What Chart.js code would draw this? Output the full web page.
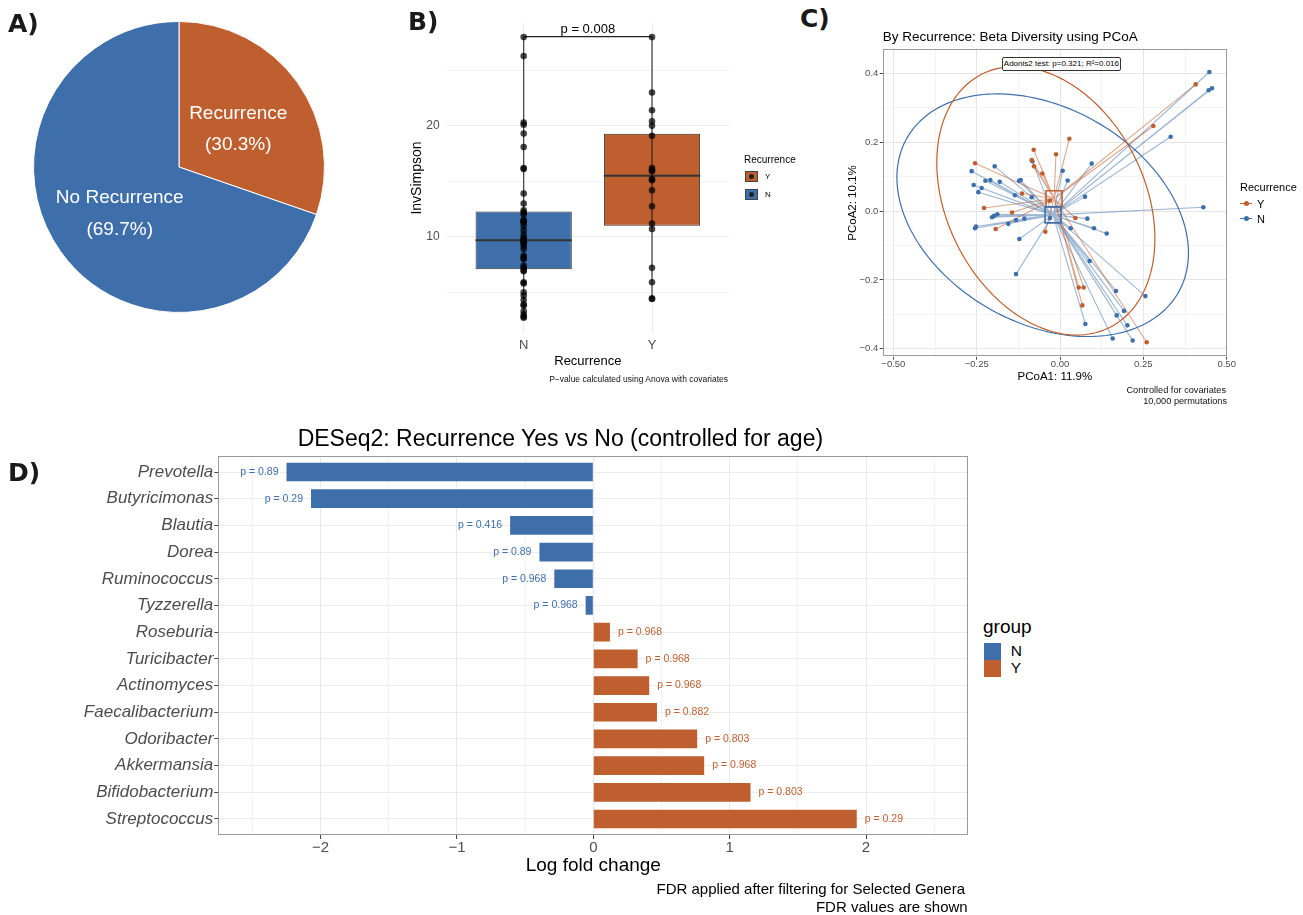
<!DOCTYPE html>
<html><head><meta charset="utf-8">
<script src="https://cdn.jsdelivr.net/npm/chart.js@4.4.1/dist/chart.umd.min.js"></script>
<style>
html,body{margin:0;padding:0;background:#fff;}
body{width:1303px;height:915px;position:relative;overflow:hidden;font-family:"Liberation Sans",Arial,Helvetica,sans-serif;}
canvas{position:absolute;}
.t{position:absolute;white-space:nowrap;line-height:1;}
.c{transform:translate(-50%,-50%);}
.l{transform:translate(0,-50%);}
.r{transform:translate(-100%,-50%);}
.pl{font-family:"DejaVu Sans",sans-serif;font-weight:bold;font-size:25px;color:#1a1a1a;}
.box{position:absolute;box-sizing:border-box;}
</style></head><body>
<canvas id="pie" width="292" height="292" style="left:33px;top:21px"></canvas>
<canvas id="box" width="400" height="400" style="left:400px;top:0px"></canvas>
<canvas id="pcoa" width="463" height="395" style="left:840px;top:20px"></canvas>
<canvas id="deseq" width="980" height="495" style="left:0px;top:420px"></canvas>

<div class="t l pl" style="left:8px;top:22.5px">A)</div>
<div class="t l pl" style="left:408px;top:21px">B)</div>
<div class="t l pl" style="left:800px;top:18px">C)</div>
<div class="t l pl" style="left:8px;top:472px">D)</div>

<!-- B extras -->
<div class="t r" style="left:728px;top:378.5px;font-size:8.5px;color:#111">P−value calculated using Anova with covariates</div>
<div class="t l" style="left:744px;top:159.5px;font-size:10px;color:#000">Recurrence</div>
<div class="box" style="left:745px;top:171px;width:13px;height:11px;background:#BF5F2F;border:1px solid #444"></div>
<div class="box" style="left:749px;top:174px;width:5px;height:5px;border-radius:50%;background:#222"></div>
<div class="t l" style="left:765px;top:177px;font-size:8px;color:#000">Y</div>
<div class="box" style="left:745px;top:188.5px;width:13px;height:11px;background:#3E6FAB;border:1px solid #444"></div>
<div class="box" style="left:749px;top:191.5px;width:5px;height:5px;border-radius:50%;background:#222"></div>
<div class="t l" style="left:765px;top:194.5px;font-size:8px;color:#000">N</div>

<!-- C extras -->
<div class="t l" style="left:882.7px;top:36.7px;font-size:13.5px;color:#000">By Recurrence: Beta Diversity using PCoA</div>
<div class="box t" style="left:1001.7px;top:56.7px;width:119.5px;height:14.5px;border:1px solid #333;border-radius:2px;background:#fff;font-size:8px;line-height:12.5px;text-align:center;color:#000">Adonis2 test: p=0.321; R²=0.016</div>
<div class="t r" style="left:1226px;top:391px;font-size:9.2px;color:#111">Controlled for covariates</div>
<div class="t r" style="left:1227px;top:401.5px;font-size:9.2px;color:#111">10,000 permutations</div>
<div class="t l" style="left:1240px;top:186.7px;font-size:11px;color:#000">Recurrence</div>
<div class="box" style="left:1240px;top:202.7px;width:12px;height:1.3px;background:#BF5F2F"></div>
<div class="box" style="left:1243.5px;top:201px;width:5px;height:5px;border-radius:50%;background:#BF5F2F"></div>
<div class="t l" style="left:1257px;top:203.5px;font-size:11px;color:#000">Y</div>
<div class="box" style="left:1240px;top:217.7px;width:12px;height:1.3px;background:#3E6FAB"></div>
<div class="box" style="left:1243.5px;top:216px;width:5px;height:5px;border-radius:50%;background:#3E6FAB"></div>
<div class="t l" style="left:1257px;top:218.5px;font-size:11px;color:#000">N</div>

<!-- D extras -->
<div class="t c" style="left:560.4px;top:438px;font-size:23px;color:#000">DESeq2: Recurrence Yes vs No (controlled for age)</div>
<div class="t r" style="left:965px;top:888.3px;font-size:15px;color:#000">FDR applied after filtering for Selected Genera</div>
<div class="t r" style="left:967.7px;top:905.7px;font-size:15px;color:#000">FDR values are shown</div>
<div class="t l" style="left:983px;top:625.7px;font-size:19px;color:#000">group</div>
<div class="box" style="left:984.3px;top:642.7px;width:16.5px;height:17.3px;background:#3E6FAB"></div>
<div class="box" style="left:984.3px;top:660px;width:16.5px;height:16.7px;background:#BF5F2F"></div>
<div class="t l" style="left:1010.7px;top:651.3px;font-size:15.5px;color:#000">N</div>
<div class="t l" style="left:1010.7px;top:668.3px;font-size:15.5px;color:#000">Y</div>

<script>
// ================= DATA =================
// Panel A
const pieLabels = ['Recurrence', 'No Recurrence'];
const piePercent = [30.3, 69.7];

// Panel B
const boxGroups = ['N', 'Y'];
const invSimpsonN = [28.0, 26.3, 20.3, 20.1, 19.3, 18.1, 16.2, 16.1, 13.9, 13.0, 12.4, 12.2, 12.0, 11.5, 11.4, 11.4, 11.3, 11.0, 10.6, 10.2, 9.9, 9.8, 9.7, 9.6, 9.5, 9.4, 9.2, 8.9, 8.3, 8.1, 8.0, 7.4, 7.2, 7.0, 6.9, 5.9, 5.8, 5.0, 4.7, 4.3, 3.9, 3.8, 3.3, 3.0, 2.8, 2.7];
const invSimpsonY = [28.0, 23.0, 21.4, 20.4, 20.0, 19.1, 16.2, 16.0, 15.9, 15.2, 15.1, 14.2, 12.75, 11.2, 10.7, 7.2, 5.9, 4.45, 4.4];
const boxQ1 = [7.07, 11.0];
const boxMedian = [9.7, 15.5];
const boxQ3 = [12.27, 19.28];
const bracketY = 28.05;
const bracketLabel = 'p = 0.008';
const invTicks = [5, 10, 15, 20, 25];
const invLabelTicks = [10, 20];

// Panel C
const pcoaYx = [0.407, 0.280, 0.028, -0.079, -0.012, -0.255, -0.085, -0.078, -0.053, -0.114, -0.228, -0.144, 0.046, -0.193, -0.044, 0.056, 0.071, 0.067, 0.260, -0.030];
const pcoaYy = [0.368, 0.247, 0.210, 0.178, 0.165, 0.139, 0.148, 0.130, 0.109, 0.051, 0.009, -0.004, -0.020, -0.052, -0.060, -0.222, -0.222, -0.274, -0.381, 0.030];
const pcoaNx = [0.448, 0.446, 0.456, 0.332, 0.095, 0.008, 0.023, 0.075, 0.430, 0.082, 0.102, 0.140, 0.032, 0.089, 0.168, 0.256, 0.192, 0.170, 0.202, 0.076, 0.158, 0.218, -0.132, -0.122, -0.265, -0.196, -0.259, -0.224, -0.209, -0.181, -0.245, -0.235, -0.123, -0.118, -0.135, -0.085, -0.083, -0.252, -0.255, -0.204, -0.198, -0.188, -0.132, -0.155, -0.107, -0.030];
const pcoaNy = [0.404, 0.351, 0.357, 0.216, 0.138, 0.117, 0.089, 0.042, 0.011, -0.022, -0.050, -0.065, -0.050, -0.145, -0.232, -0.247, -0.290, -0.303, -0.332, -0.328, -0.370, -0.376, -0.183, -0.081, 0.116, 0.130, 0.076, 0.088, 0.090, 0.085, 0.055, 0.067, 0.088, 0.090, 0.046, 0.040, 0.145, -0.045, -0.050, -0.018, -0.014, -0.009, -0.026, -0.037, -0.022, -0.020];
const centroidY = [-0.018, 0.036];
const centroidN = [-0.021, -0.011];
// ellipse parameters: centre x, centre y, semi-major, semi-minor, angle (deg)
const ellipseY = [-0.0425, 0.030, 0.415, 0.295, -61];
const ellipseN = [-0.052, -0.012, 0.465, 0.315, -27.5];
const pcoaXTicks = [-0.5, -0.375, -0.25, -0.125, 0, 0.125, 0.25, 0.375, 0.5];
const pcoaXMajor = [-0.5, -0.25, 0, 0.25, 0.5];
const pcoaYTicks = [-0.4, -0.3, -0.2, -0.1, 0, 0.1, 0.2, 0.3, 0.4];
const pcoaYMajor = [-0.4, -0.2, 0, 0.2, 0.4];

// Panel D
const genera = ['Prevotella', 'Butyricimonas', 'Blautia', 'Dorea', 'Ruminococcus', 'Tyzzerella', 'Roseburia', 'Turicibacter', 'Actinomyces', 'Faecalibacterium', 'Odoribacter', 'Akkermansia', 'Bifidobacterium', 'Streptococcus'];
const logFoldChange = [-2.25, -2.07, -0.61, -0.395, -0.286, -0.056, 0.122, 0.325, 0.41, 0.467, 0.762, 0.813, 1.153, 1.932];
const fdrValues = ['0.89', '0.29', '0.416', '0.89', '0.968', '0.968', '0.968', '0.968', '0.968', '0.882', '0.803', '0.968', '0.803', '0.29'];
const lfcGroup = ['N', 'N', 'N', 'N', 'N', 'N', 'Y', 'Y', 'Y', 'Y', 'Y', 'Y', 'Y', 'Y'];
const lfcTicks = [-2.5, -2, -1.5, -1, -0.5, 0, 0.5, 1, 1.5, 2, 2.5];
const lfcMajor = [-2, -1, 0, 1, 2];

// ================= STYLE =================
const BLUE = '#3E6FAB';
const ORANGE = '#BF5F2F';
const FONT = '"Liberation Sans", Arial, Helvetica, sans-serif';
Chart.defaults.font.family = FONT;
Chart.defaults.color = '#4d4d4d';
const base = {responsive: false, animation: false, devicePixelRatio: 1, events: []};
const minus = s => s.replace('-', '\u2212');

const panelBorder = {
  id: 'panelBorder',
  afterDraw(chart) {
    const o = chart.options.plugins.panelBorder;
    if (!o || !o.color) return;
    const a = chart.chartArea, ctx = chart.ctx;
    ctx.save();
    ctx.strokeStyle = o.color; ctx.lineWidth = 1;
    ctx.strokeRect(Math.round(a.left) + 0.5, Math.round(a.top) + 0.5, Math.round(a.width) - 1, Math.round(a.height) - 1);
    ctx.restore();
  }
};

// ================= A: PIE =================
const pieLabelPlugin = {
  id: 'pieLabels',
  afterDatasetsDraw(chart) {
    const ctx = chart.ctx;
    const meta = chart.getDatasetMeta(0);
    ctx.save();
    ctx.fillStyle = '#fff';
    ctx.font = '19px ' + FONT;
    ctx.textAlign = 'center';
    ctx.textBaseline = 'middle';
    meta.data.forEach((arc, i) => {
      const p = arc.getProps(['x', 'y', 'startAngle', 'endAngle', 'outerRadius'], true);
      const mid = (p.startAngle + p.endAngle) / 2;
      const px = p.x + Math.cos(mid) * p.outerRadius * 0.5;
      const py = p.y + Math.sin(mid) * p.outerRadius * 0.5 + 4.5;
      ctx.fillText(pieLabels[i], px, py - 15.8);
      ctx.fillText('(' + piePercent[i].toFixed(1) + '%)', px, py + 15.8);
    });
    ctx.restore();
  }
};
new Chart(document.getElementById('pie'), {
  type: 'pie',
  data: {labels: pieLabels, datasets: [{data: piePercent, backgroundColor: [ORANGE, BLUE], borderColor: '#fff', borderWidth: 1}]},
  options: Object.assign({}, base, {layout: {padding: 0}, plugins: {legend: {display: false}, tooltip: {enabled: false}}}),
  plugins: [pieLabelPlugin]
});

// ================= B: BOX PLOT =================
const medianPlugin = {
  id: 'boxMedian',
  afterDatasetDraw(chart, args) {
    if (args.meta.type !== 'bar') return;
    const ctx = chart.ctx, ys = chart.scales.y;
    ctx.save();
    ctx.strokeStyle = '#333'; ctx.lineWidth = 2;
    args.meta.data.forEach((el, i) => {
      const y = ys.getPixelForValue(boxMedian[i]);
      ctx.beginPath(); ctx.moveTo(el.x - el.width / 2, y); ctx.lineTo(el.x + el.width / 2, y); ctx.stroke();
    });
    ctx.restore();
  },
  afterDraw(chart) {
    const ctx = chart.ctx, xs = chart.scales.x, ys = chart.scales.y;
    ctx.save();
    ctx.fillStyle = '#000'; ctx.font = '13px ' + FONT;
    ctx.textAlign = 'center'; ctx.textBaseline = 'middle';
    ctx.fillText(bracketLabel, (xs.getPixelForValue(1) + xs.getPixelForValue(2)) / 2, ys.getPixelForValue(bracketY) - 7.5);
    ctx.restore();
  }
};
const groupsData = [invSimpsonN, invSimpsonY];
new Chart(document.getElementById('box'), {
  type: 'scatter',
  data: {datasets: [
    {type: 'scatter', data: invSimpsonN.map(v => ({x: 1, y: v})), pointRadius: 3.3, backgroundColor: 'rgba(0,0,0,0.72)', borderWidth: 0, order: 0},
    {type: 'scatter', data: invSimpsonY.map(v => ({x: 2, y: v})), pointRadius: 3.3, backgroundColor: 'rgba(0,0,0,0.72)', borderWidth: 0, order: 0},
    {type: 'line', data: groupsData.flatMap((g, i) => [{x: i + 1, y: Math.min(...g)}, {x: i + 1, y: Math.max(...g)}, {x: i + 1, y: null}]), borderColor: 'rgba(25,25,25,0.85)', borderWidth: 1.2, pointRadius: 0, spanGaps: false, order: 1},
    {type: 'line', data: [{x: 1, y: bracketY}, {x: 2, y: bracketY}], borderColor: '#222', borderWidth: 1.2, pointRadius: 0, order: 1},
    {type: 'bar', data: boxGroups.map((g, i) => ({x: i + 1, y: [boxQ1[i], boxQ3[i]]})), backgroundColor: [BLUE, ORANGE], borderColor: '#333', borderWidth: 1, borderSkipped: false, barPercentage: 0.75, categoryPercentage: 1, order: 3}
  ]},
  options: Object.assign({}, base, {
    layout: {padding: {left: 0, right: 71, top: 23, bottom: 27}},
    plugins: {legend: {display: false}, tooltip: {enabled: false}},
    scales: {
      x: {type: 'linear', min: 0.4, max: 2.6, offset: false,
        afterBuildTicks: s => { s.ticks = boxGroups.map((g, i) => ({value: i + 1})); },
        ticks: {callback: v => boxGroups[v - 1], font: {size: 13, lineHeight: 1}, color: '#4d4d4d', padding: 5.5, autoSkip: false, maxRotation: 0},
        grid: {color: '#ebebeb', drawTicks: false, offset: false}, border: {display: false},
        title: {display: true, text: 'Recurrence', color: '#000', font: {size: 13}, padding: {top: 0, bottom: 3.5}},
        afterFit: s => { s.height = 40; }},
      y: {type: 'linear', min: 1.33, max: 29.27, beginAtZero: false,
        afterBuildTicks: s => { s.ticks = invTicks.map(v => ({value: v})); },
        ticks: {callback: v => invLabelTicks.includes(v) ? String(v) : '', font: {size: 12}, color: '#4d4d4d', padding: 7, autoSkip: false},
        grid: {color: c => invLabelTicks.includes(c.tick && c.tick.value) ? '#ebebeb' : '#f3f3f3', drawTicks: false}, border: {display: false},
        title: {display: true, text: 'InvSimpson', color: '#000', font: {size: 14}, padding: {top: 9, bottom: 0}},
        afterFit: s => { s.width = 46.7; }}
    }
  }),
  plugins: [medianPlugin]
});

// ================= C: PCoA =================
function spokes(xs, ys, c) {
  const out = [];
  xs.forEach((x, i) => { out.push({x: x, y: ys[i]}, {x: c[0], y: c[1]}, {x: c[0], y: null}); });
  return out;
}
const ellipsePlugin = {
  id: 'ellipses',
  afterDatasetsDraw(chart) {
    const ctx = chart.ctx, xs = chart.scales.x, ys = chart.scales.y;
    [[ellipseN, BLUE], [ellipseY, ORANGE]].forEach(([e, col]) => {
      const [cx, cy, a, b, deg] = e;
      const th = deg * Math.PI / 180;
      ctx.save();
      ctx.beginPath();
      for (let k = 0; k <= 200; k++) {
        const t = k / 200 * 2 * Math.PI;
        const dx = a * Math.cos(t), dy = b * Math.sin(t);
        const X = cx + dx * Math.cos(th) - dy * Math.sin(th);
        const Y = cy + dx * Math.sin(th) + dy * Math.cos(th);
        const px = xs.getPixelForValue(X), py = ys.getPixelForValue(Y);
        if (k) ctx.lineTo(px, py); else ctx.moveTo(px, py);
      }
      ctx.closePath();
      ctx.strokeStyle = col; ctx.lineWidth = 1.2; ctx.stroke();
      ctx.restore();
    });
  }
};
const fmtC = (v, d) => minus(v.toFixed(d));
new Chart(document.getElementById('pcoa'), {
  type: 'scatter',
  data: {datasets: [
    {type: 'line', data: spokes(pcoaNx, pcoaNy, centroidN), borderColor: 'rgba(62,111,171,0.5)', borderWidth: 1.1, pointRadius: 0, spanGaps: false, order: 5},
    {type: 'line', data: spokes(pcoaYx, pcoaYy, centroidY), borderColor: 'rgba(191,95,47,0.55)', borderWidth: 1.1, pointRadius: 0, spanGaps: false, order: 4},
    {type: 'scatter', data: pcoaNx.map((x, i) => ({x: x, y: pcoaNy[i]})), pointRadius: 2.3, backgroundColor: BLUE, borderWidth: 0, order: 2},
    {type: 'scatter', data: pcoaYx.map((x, i) => ({x: x, y: pcoaYy[i]})), pointRadius: 2.3, backgroundColor: ORANGE, borderWidth: 0, order: 1},
    {type: 'scatter', data: [{x: centroidN[0], y: centroidN[1]}], pointStyle: 'rect', pointRadius: 11.3, backgroundColor: 'rgba(0,0,0,0)', borderColor: BLUE, borderWidth: 1.6, order: 0},
    {type: 'scatter', data: [{x: centroidY[0], y: centroidY[1]}], pointStyle: 'rect', pointRadius: 11.3, backgroundColor: 'rgba(0,0,0,0)', borderColor: ORANGE, borderWidth: 1.6, order: 0}
  ]},
  options: Object.assign({}, base, {
    layout: {padding: {left: 0, right: 76, top: 29.3, bottom: 30}},
    plugins: {legend: {display: false}, tooltip: {enabled: false}, panelBorder: {color: '#9a9a9a'}},
    scales: {
      x: {type: 'linear', min: -0.532, max: 0.501,
        afterBuildTicks: s => { s.ticks = pcoaXTicks.map(v => ({value: v})); },
        ticks: {callback: v => pcoaXMajor.includes(v) ? fmtC(v, 2) : '', font: {size: 9.5, lineHeight: 1}, color: '#4d4d4d', padding: 0, autoSkip: false, maxRotation: 0},
        grid: {color: c => pcoaXMajor.includes(c.tick && c.tick.value) ? '#e6e6e6' : '#f3f3f3', tickColor: c => pcoaXMajor.includes(c.tick && c.tick.value) ? '#444' : 'rgba(0,0,0,0)', tickLength: 3}, border: {display: false},
        title: {display: true, text: 'PCoA1: 11.9%', color: '#000', font: {size: 11.5}, padding: {top: 0, bottom: 1.4}},
        afterFit: s => { s.height = 28.3; }},
      y: {type: 'linear', min: -0.423, max: 0.47,
        afterBuildTicks: s => { s.ticks = pcoaYTicks.map(v => ({value: v})); },
        ticks: {callback: v => pcoaYMajor.includes(v) ? fmtC(v, 1) : '', font: {size: 9.5}, color: '#4d4d4d', padding: 1.4, autoSkip: false},
        grid: {color: c => pcoaYMajor.includes(c.tick && c.tick.value) ? '#e6e6e6' : '#f3f3f3', tickColor: c => pcoaYMajor.includes(c.tick && c.tick.value) ? '#444' : 'rgba(0,0,0,0)', tickLength: 3}, border: {display: false},
        title: {display: true, text: 'PCoA2: 10.1%', color: '#000', font: {size: 11.5}, padding: {top: 6.4, bottom: 0}},
        afterFit: s => { s.width = 42.7; }}
    }
  }),
  plugins: [ellipsePlugin, panelBorder]
});

// ================= D: DESeq2 bars =================
const colorOf = g => g === 'N' ? BLUE : ORANGE;
const fdrPlugin = {
  id: 'fdrLabels',
  afterDatasetsDraw(chart) {
    const ctx = chart.ctx, xs = chart.scales.x, ys = chart.scales.y;
    ctx.save();
    ctx.font = '10.5px ' + FONT;
    ctx.textBaseline = 'middle';
    logFoldChange.forEach((v, i) => {
      const neg = v < 0;
      ctx.fillStyle = colorOf(lfcGroup[i]);
      ctx.textAlign = neg ? 'right' : 'left';
      ctx.fillText('p = ' + fdrValues[i], xs.getPixelForValue(v) + (neg ? -8 : 8), ys.getPixelForValue(i));
    });
    ctx.restore();
  }
};
new Chart(document.getElementById('deseq'), {
  type: 'bar',
  data: {datasets: [{
    data: genera.map((g, i) => ({x: logFoldChange[i], y: i})),
    backgroundColor: lfcGroup.map(colorOf),
    borderWidth: 0, barPercentage: 0.7, categoryPercentage: 1
  }]},
  options: Object.assign({}, base, {
    indexAxis: 'y',
    layout: {padding: {left: 0, right: 11.7, top: 36, bottom: 35}},
    plugins: {legend: {display: false}, tooltip: {enabled: false}, panelBorder: {color: '#9a9a9a'}},
    scales: {
      x: {type: 'linear', position: 'bottom', min: -2.75, max: 2.75, beginAtZero: false,
        afterBuildTicks: s => { s.ticks = lfcTicks.map(v => ({value: v})); },
        ticks: {callback: v => lfcMajor.includes(v) ? minus(String(v)) : '', font: {size: 15, lineHeight: 1}, color: '#4d4d4d', padding: 1, autoSkip: false, maxRotation: 0},
        grid: {color: c => lfcMajor.includes(c.tick && c.tick.value) ? '#e8e8e8' : '#f3f3f3', tickColor: c => lfcMajor.includes(c.tick && c.tick.value) ? '#444' : 'rgba(0,0,0,0)', tickLength: 4}, border: {display: false},
        title: {display: true, text: 'Log fold change', color: '#000', font: {size: 19}, padding: {top: 0, bottom: 2.6}},
        afterFit: s => { s.height = 45; }},
      y: {type: 'linear', position: 'left', reverse: true, min: -0.6, max: 13.6, offset: false,
        afterBuildTicks: s => { s.ticks = genera.map((g, i) => ({value: i})); },
        ticks: {callback: v => genera[v], font: {size: 17, style: 'italic'}, color: '#4d4d4d', padding: 1, autoSkip: false},
        grid: {color: '#ebebeb', tickColor: '#444', tickLength: 4, offset: false}, border: {display: false},
        afterFit: s => { s.width = 218.3; }}
    }
  }),
  plugins: [fdrPlugin, panelBorder]
});
</script>
</body></html>
